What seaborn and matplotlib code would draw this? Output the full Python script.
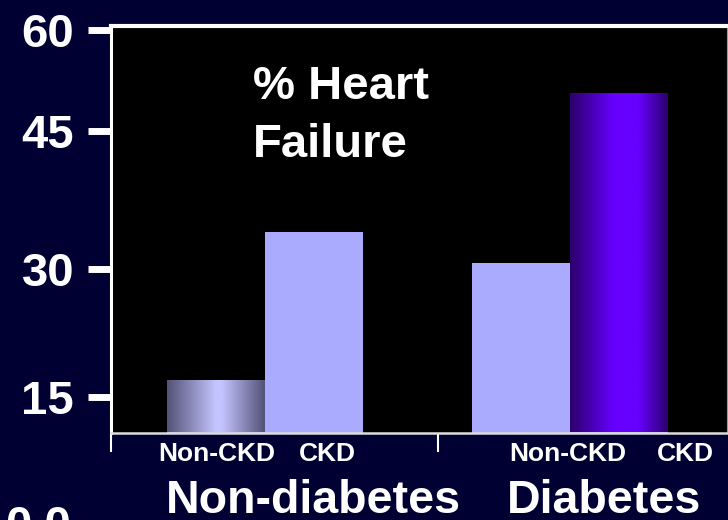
import numpy as np
import pandas as pd
import matplotlib
matplotlib.use("Agg")
import matplotlib.pyplot as plt
import matplotlib.transforms as mtransforms
from matplotlib.colors import LinearSegmentedColormap
from matplotlib.ticker import FixedLocator
import seaborn as sns

# ---- data -------------------------------------------------------------
groups = ["Non-diabetes", "Diabetes"]
subgroups = ["Non-CKD", "CKD"]
non_diabetes_pct = [17.0, 34.0]
diabetes_pct = [30.6, 50.6]
tick_values = [15, 30, 45, 60]
tick_labels = ["15", "30", "45", "60"]
zero_label = "0.0"
title_lines = ["% Heart", "Failure"]

# The printed value axis is unevenly spaced between its labels, so the
# scale is piecewise linear through these knots.
scale_values = [-15, 0, 15, 30, 45, 60, 75]
scale_positions = [-647.0, -522.0, -397.0, -268.5, -130.5, -29.5, 71.5]

df = pd.DataFrame({
    "group": np.repeat(groups, len(subgroups)),
    "subgroup": subgroups * len(groups),
    "pct": non_diabetes_pct + diabetes_pct,
})

# ---- style ------------------------------------------------------------
BG = "#000033"
sns.set_style("dark", {"axes.facecolor": "black", "figure.facecolor": BG})
plt.rcParams["font.family"] = ["Liberation Sans", "DejaVu Sans"]
plt.rcParams["font.weight"] = "bold"

fig = plt.figure(figsize=(7.28, 5.2), dpi=100, facecolor=BG)
W, H = 728.0, 520.0
ax = fig.add_axes([111 / W, (H - 432.5) / H, (727 - 111) / W, (432.5 - 26) / H])
ax.set_facecolor("black")


def fwd(v):
    return np.interp(v, scale_values, scale_positions)


def inv(p):
    return np.interp(p, scale_positions, scale_values)


ax.set_yscale("function", functions=(fwd, inv))

sns.barplot(data=df, x="group", y="pct", hue="subgroup",
            order=groups, hue_order=subgroups,
            palette=["#aaaaff", "#aaaaff"], saturation=1,
            width=0.64, errorbar=None, legend=False,
            linewidth=0, ax=ax)

ax.set_xlim(-0.505, 1.515)
ax.set_ylim(10.74, 60.52)
ax.grid(False)
ax.set_xlabel("")
ax.set_ylabel("")

# ---- shaded (cylinder-like) fills on two of the bars -------------------
grey_cmap = LinearSegmentedColormap.from_list(
    "grey_lav", [(0, "#525276"), (0.5, "#c4c4ff"), (0.56, "#c4c4ff"), (1, "#525276")])
violet_cmap = LinearSegmentedColormap.from_list(
    "violet", [(0, "#2c006c"), (0.45, "#6600ff"), (0.7, "#6600ff"), (1, "#2c006c")])

shade = {("Non-diabetes", "Non-CKD"): grey_cmap, ("Diabetes", "CKD"): violet_cmap}
gradient = np.linspace(0, 1, 256).reshape(1, -1)
to_axes = ax.transAxes.inverted()
for patch in ax.patches:
    xc = patch.get_x() + patch.get_width() / 2
    gi = int(round(xc))
    sub = subgroups[0] if xc < gi else subgroups[1]
    cmap = shade.get((groups[gi], sub))
    if cmap is None:
        continue
    bb = patch.get_window_extent(renderer=fig.canvas.get_renderer())
    (x0, y0), (x1, y1) = to_axes.transform([[bb.x0, bb.y0], [bb.x1, bb.y1]])
    y0 = max(y0, 0.0)
    im = ax.imshow(gradient, cmap=cmap, aspect="auto", extent=(x0, x1, y0, y1),
                   transform=ax.transAxes, interpolation="bicubic", zorder=patch.get_zorder() + 0.1)
    im.set_clip_path(patch)

ax.set_xlim(-0.505, 1.515)
ax.set_ylim(10.74, 60.52)

# ---- spines & ticks ---------------------------------------------------
ax.spines["top"].set_color("white")
ax.spines["top"].set_linewidth(3)
ax.spines["left"].set_color("white")
ax.spines["left"].set_linewidth(2.2)
ax.spines["bottom"].set_color("#dcdcdc")
ax.spines["bottom"].set_linewidth(1.8)
ax.spines["right"].set_color("#9a9a9a")
ax.spines["right"].set_linewidth(0.8)
for s in ax.spines.values():
    s.set_visible(True)

ax.set_yticks(tick_values, tick_labels)
ax.tick_params(axis="y", which="major", direction="out", length=16.5, width=5,
               color="white", pad=10, labelsize=34, labelcolor="white", left=True)
for lab in ax.get_yticklabels():
    lab.set_fontweight("bold")

ax.set_xticks([])
ax.xaxis.set_minor_locator(FixedLocator([-0.505, 0.567]))
ax.tick_params(axis="x", which="minor", direction="out", length=13.5, width=1.5,
               color="white", bottom=True)

# zero label sits below the visible part of the axis
zero_tr = mtransforms.blended_transform_factory(fig.transFigure, ax.transData)
ax.text(71 / W, 0, zero_label, transform=zero_tr, ha="right", va="center_baseline",
        color="white", fontsize=34, fontweight="bold", clip_on=False)

# ---- category labels --------------------------------------------------
lab_tr = mtransforms.blended_transform_factory(ax.transData, fig.transFigure)
sub_x = [-0.157, 0.203, 0.993, 1.377]
for x, txt in zip(sub_x, subgroups * len(groups)):
    ax.text(x, (H - 461) / H, txt, transform=lab_tr, ha="center", va="baseline",
            color="white", fontsize=19, fontweight="bold")

group_x = [0.157, 1.111]
for x, txt in zip(group_x, groups):
    ax.text(x, (H - 513) / H, txt, transform=lab_tr, ha="center", va="baseline",
            color="white", fontsize=33.5, fontweight="bold")

# ---- panel title ------------------------------------------------------
for yb, txt in zip([99, 157], title_lines):
    ax.text((253 - 111) / 616, (432.5 - yb) / 406.5, txt, transform=ax.transAxes,
            ha="left", va="baseline", color="white", fontsize=34, fontweight="bold")

fig.savefig("out.png", dpi=100, facecolor=BG)
